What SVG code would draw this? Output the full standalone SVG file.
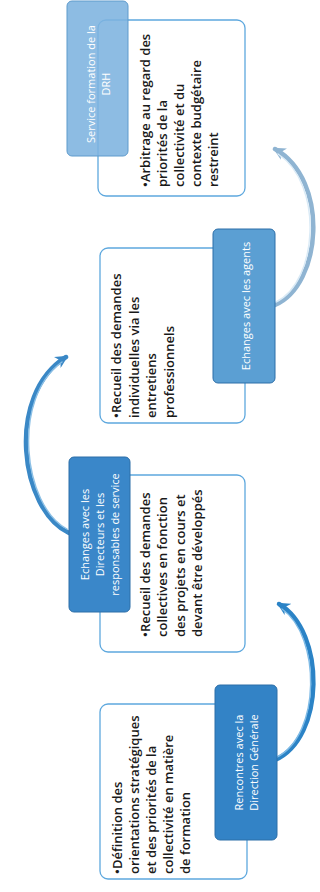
<svg xmlns="http://www.w3.org/2000/svg" width="320" height="892" viewBox="0 0 320 892">
<defs>
<style>
.tb{fill:#ffffff;stroke:#5ea8de;stroke-width:1.3}
.bb{stroke:#2c6ea8;stroke-width:1}
.tt{font-family:"Open Sans","Liberation Sans",sans-serif;font-size:13px;font-weight:600;fill:#1a1a1a}
.bt{font-family:"Open Sans","Liberation Sans",sans-serif;font-size:11px;fill:#ffffff;text-anchor:middle}
.arr{fill:none;stroke-width:4.5;stroke-linecap:round}
.hl{fill:none;stroke-width:1.4;stroke-linecap:round}
</style>
<marker id="m1" viewBox="0 0 10 10" refX="8" refY="5" markerWidth="13" markerHeight="13" markerUnits="userSpaceOnUse" orient="auto"><path d="M0,0 L10,5 L0,10 L3,5 z" fill="#2b83c6"/></marker>
<marker id="m2" viewBox="0 0 10 10" refX="8" refY="5" markerWidth="13" markerHeight="13" markerUnits="userSpaceOnUse" orient="auto"><path d="M0,0 L10,5 L0,10 L3,5 z" fill="#3a88c6"/></marker>
<marker id="m3" viewBox="0 0 10 10" refX="8" refY="5" markerWidth="13" markerHeight="13" markerUnits="userSpaceOnUse" orient="auto"><path d="M0,0 L10,5 L0,10 L3,5 z" fill="#8fb4d2"/></marker>
</defs>
<rect width="320" height="892" fill="#ffffff"/>

<g id="connectors">
<path class="arr" d="M275,760 C325,738 326,632 279,604" stroke="#2b83c6" marker-end="url(#m1)"/>
<path class="hl" d="M277,757 C321,735 321,636 282,609" stroke="#7fbbe6"/>
<path class="arr" d="M69,533 C20,510 5,395 66,357" stroke="#3a88c6" marker-end="url(#m2)"/>
<path class="hl" d="M67,529 C23,506 11,398 62,362" stroke="#8cc0e6"/>
<path class="arr" d="M275,305 C322,285 330,180 275,149" stroke="#8fb4d2" marker-end="url(#m3)"/>
<path class="hl" d="M276,302 C318,282 324,184 278,154" stroke="#d9eaf6"/>
</g>

<g id="node1">
<rect class="tb" x="100" y="704" width="147" height="175" rx="8"/>
<rect class="bb" x="215" y="685" width="62" height="155" rx="5" fill="#3383c6"/>
<g transform="translate(246,762.5) rotate(-90)">
<text class="bt"><tspan x="0" y="-3.5">Rencontres avec la</tspan><tspan x="0" y="11.5">Direction Générale</tspan></text>
</g>
<g transform="translate(100,879) rotate(-90)">
<text class="tt"><tspan x="5" y="21.5">•Définition des</tspan><tspan x="5" y="38.5">orientations stratégiques</tspan><tspan x="5" y="55.5">et des priorités de la</tspan><tspan x="5" y="72.5">collectivité en matière</tspan><tspan x="5" y="89.5">de formation</tspan></text>
</g>
</g>

<g id="node2">
<rect class="tb" x="100" y="475" width="145" height="177" rx="8"/>
<rect class="bb" x="69" y="457" width="61" height="155" rx="5" fill="#3a87c9"/>
<g transform="translate(99.5,534.5) rotate(-90)">
<text class="bt"><tspan x="0" y="-10.5">Echanges avec les</tspan><tspan x="0" y="4.5">Directeurs et les</tspan><tspan x="0" y="19.5">responsables de service</tspan></text>
</g>
<g transform="translate(100,652) rotate(-90)">
<text class="tt"><tspan x="15" y="49.5">•Recueil des demandes</tspan><tspan x="15" y="67">collectives en fonction</tspan><tspan x="15" y="84.5">des projets en cours et</tspan><tspan x="15" y="102">devant être développés</tspan></text>
</g>
</g>

<g id="node3">
<rect class="tb" x="100" y="248" width="145" height="175" rx="8"/>
<rect class="bb" x="213" y="229" width="62" height="154" rx="5" fill="#5b9fd3" stroke="#3f82b8"/>
<g transform="translate(244,306) rotate(-90)">
<text class="bt"><tspan x="0" y="5.5">Echanges avec les agents</tspan></text>
</g>
<g transform="translate(100,423) rotate(-90)">
<text class="tt"><tspan x="5" y="21">•Recueil des demandes</tspan><tspan x="5" y="38.5">individuelles via les</tspan><tspan x="5" y="56">entretiens</tspan><tspan x="5" y="73.5">professionnels</tspan></text>
</g>
</g>

<g id="node4">
<rect class="tb" x="98" y="20" width="147" height="176" rx="8"/>
<rect x="67" y="1" width="61" height="155" rx="5" fill="#7db3df" fill-opacity="0.88" stroke="#5f9bcc" stroke-width="1"/>
<g transform="translate(97.5,84) rotate(-90)">
<text class="bt" fill="#eaf3fb"><tspan x="0" y="-2.5">Service formation de la</tspan><tspan x="0" y="12">DRH</tspan></text>
</g>
<g transform="translate(98,196) rotate(-90)">
<text class="tt"><tspan x="9" y="52">•Arbitrage au regard des</tspan><tspan x="9" y="69">priorités de la</tspan><tspan x="9" y="86">collectivité et du</tspan><tspan x="9" y="103">contexte budgétaire</tspan><tspan x="9" y="120">restreint</tspan></text>
</g>
</g>
</svg>
